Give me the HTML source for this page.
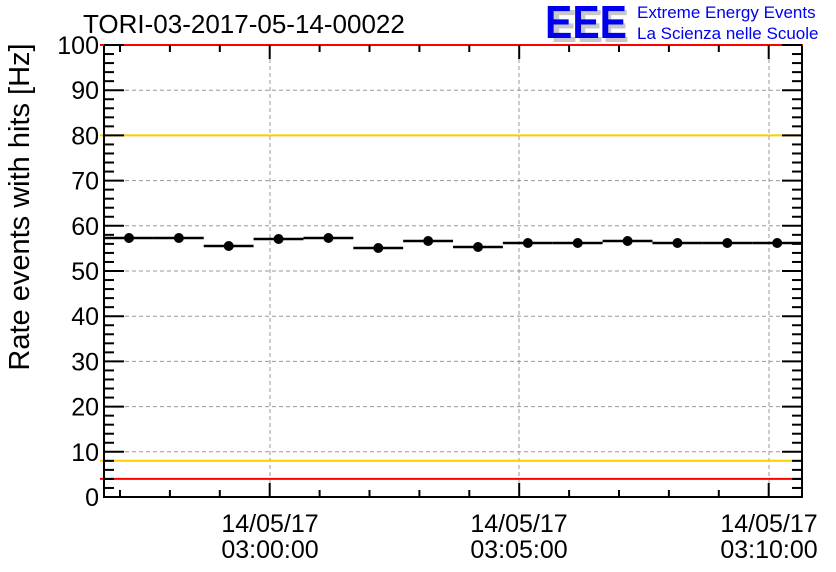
<!DOCTYPE html>
<html><head><meta charset="utf-8"><style>
html,body{margin:0;padding:0;background:#fff;}
svg{display:block;font-family:"Liberation Sans",sans-serif;}
</style></head><body>
<svg width="836" height="572" viewBox="0 0 836 572" xmlns="http://www.w3.org/2000/svg">
<rect width="836" height="572" fill="#fff"/>
<g stroke="#999" stroke-width="1" stroke-dasharray="4,3">
<line x1="104" x2="802" y1="90.2" y2="90.2"/>
<line x1="104" x2="802" y1="135.4" y2="135.4"/>
<line x1="104" x2="802" y1="180.6" y2="180.6"/>
<line x1="104" x2="802" y1="225.8" y2="225.8"/>
<line x1="104" x2="802" y1="271" y2="271"/>
<line x1="104" x2="802" y1="316.2" y2="316.2"/>
<line x1="104" x2="802" y1="361.4" y2="361.4"/>
<line x1="104" x2="802" y1="406.6" y2="406.6"/>
<line x1="104" x2="802" y1="451.8" y2="451.8"/>
<line x1="270" x2="270" y1="45" y2="497"/>
<line x1="519" x2="519" y1="45" y2="497"/>
<line x1="769" x2="769" y1="45" y2="497"/>
</g>
<line x1="100" x2="803" y1="135.4" y2="135.4" stroke="#ffcc00" stroke-width="2"/>
<line x1="100" x2="803" y1="460.8" y2="460.8" stroke="#ffcc00" stroke-width="2"/>
<line x1="100" x2="803" y1="478.9" y2="478.9" stroke="#ff0000" stroke-width="2"/>
<rect x="104" y="45" width="698" height="452" fill="none" stroke="#000" stroke-width="2"/>
<line x1="100" x2="803" y1="45" y2="45" stroke="#ff0000" stroke-width="2"/>
<g stroke="#000" stroke-width="2" id="ticks"></g>
<g stroke="#000" stroke-width="2.5" id="data"></g>
<g fill="#000" id="pts"></g>
<g font-size="25" text-anchor="end" fill="#000" id="ylab"></g>
<g font-size="25" text-anchor="middle" fill="#000">
<text x="270" y="532">14/05/17</text><text x="270" y="558">03:00:00</text>
<text x="519" y="532">14/05/17</text><text x="519" y="558">03:05:00</text>
<text x="769" y="532">14/05/17</text><text x="769" y="558">03:10:00</text>
</g>
<text x="0" y="0" font-size="29" text-anchor="middle" transform="translate(29,207) rotate(-90)">Rate events with hits [Hz]</text>
<text x="83" y="33" font-size="26">TORI-03-2017-05-14-00022</text>
<g font-size="46" font-weight="bold">
<text x="551" y="42" fill="#c8c8c8" textLength="78" lengthAdjust="spacingAndGlyphs">EEE</text>
<text x="545" y="38" fill="#0000ee" textLength="82" lengthAdjust="spacingAndGlyphs">EEE</text>
</g>
<text x="637" y="18" font-size="17" fill="#0000ee">Extreme Energy Events</text>
<text x="637" y="39" font-size="17" fill="#0000ee">La Scienza nelle Scuole</text>
</svg>
<script>
var ns="http://www.w3.org/2000/svg";
function L(g,x1,y1,x2,y2){var l=document.createElementNS(ns,"line");l.setAttribute("x1",x1);l.setAttribute("y1",y1);l.setAttribute("x2",x2);l.setAttribute("y2",y2);g.appendChild(l);}
var t=document.getElementById("ticks");
for(var v=0;v<=100;v+=2){var y=497-4.52*v;var len=(v%10==0)?20:10;L(t,104,y,104+len,y);L(t,802,y,802-len,y);}
for(var x=120;x<802;x+=49.9){var maj=Math.abs(x-270)<3||Math.abs(x-519)<3||Math.abs(x-769)<3;var len=maj?14:7;L(t,x,497,x,497-len);L(t,x,45,x,45+len);}
var ys=[238,238,246,239,238,248,241,247,243,243,241,243,243,243];
var d=document.getElementById("data"),p=document.getElementById("pts");
for(var i=0;i<14;i++){var x0=104+i*49.86;L(d,x0,ys[i],x0+49.86,ys[i]);var c=document.createElementNS(ns,"circle");c.setAttribute("cx",x0+25);c.setAttribute("cy",ys[i]);c.setAttribute("r",5);p.appendChild(c);}
var yl=document.getElementById("ylab");
for(var v=0;v<=100;v+=10){var tx=document.createElementNS(ns,"text");tx.setAttribute("x",99);tx.setAttribute("y",497-4.52*v+9);tx.textContent=v;yl.appendChild(tx);}
</script>
</body></html>
